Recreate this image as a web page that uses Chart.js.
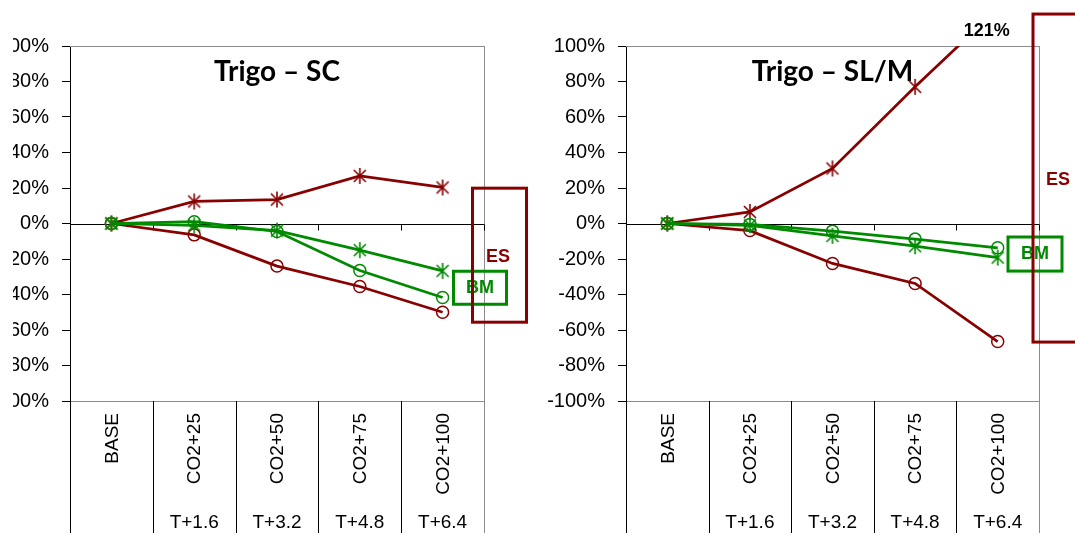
<!DOCTYPE html>
<html lang="es">
<head>
<meta charset="UTF-8">
<title>Trigo – SC / Trigo – SL/M</title>
<script src="https://cdn.jsdelivr.net/npm/chart.js"></script>
<style>
  html, body { margin: 0; padding: 0; background: #fff; overflow: hidden; width: 1075px; height: 533px; }
  #recorte { position: absolute; left: 13px; top: 0; width: 528px; height: 533px; overflow: hidden; }
  canvas { position: absolute; top: 0; }
  #graficoSC { left: -28px; }
  #graficoSLM { left: 541px; }
</style>
</head>
<body>
<div id="recorte"><canvas id="graficoSC" width="555" height="533"></canvas></div>
<canvas id="graficoSLM" width="534" height="533"></canvas>

<script>
  // categorías del eje x (dos niveles)
  const categorias = ['BASE', 'CO2+25', 'CO2+50', 'CO2+75', 'CO2+100'];
  const temperaturas = ['', 'T+1.6', 'T+3.2', 'T+4.8', 'T+6.4'];

  // Trigo – SC (% de cambio)
  const scEsEstrella = [0, 12.4, 13.5, 26.8, 20.3];
  const scEsCirculo  = [0, -6.4, -24.0, -35.5, -50.0];
  const scBmEstrella = [0, -1.0, -4.0, -15.0, -26.7];
  const scBmCirculo  = [0, 1.0, -4.5, -26.5, -41.7];

  // Trigo – SL/M (% de cambio)
  const slmEsEstrella = [0, 6.5, 31.0, 77.0, 121.0];
  const slmEsCirculo  = [0, -4.0, -22.5, -33.8, -66.5];
  const slmBmEstrella = [0, -1.0, -7.0, -12.8, -19.2];
  const slmBmCirculo  = [0, -0.5, -4.3, -8.8, -13.7];

  const ROJO = '#880000';
  const VERDE = '#008a00';
  const FUENTE = '"Liberation Sans", Arial, sans-serif';

  // marcador tipo asterisco (X + línea vertical), como el de Excel
  function asterisco(color) {
    const c = document.createElement('canvas');
    c.width = 18; c.height = 18;
    const g = c.getContext('2d');
    g.strokeStyle = color;
    g.lineWidth = 1.6;
    g.beginPath();
    g.moveTo(9, 1); g.lineTo(9, 17);
    g.moveTo(3, 3); g.lineTo(15, 15);
    g.moveTo(15, 3); g.lineTo(3, 15);
    g.stroke();
    return c;
  }

  function serie(datos, color, estrella) {
    return {
      data: datos,
      borderColor: color,
      borderWidth: 2.75,
      pointStyle: estrella ? asterisco(color) : 'circle',
      pointRadius: 6,
      pointBorderColor: color,
      pointBorderWidth: 1.5,
      pointBackgroundColor: 'rgba(0,0,0,0)',
      tension: 0,
      clip: 0
    };
  }

  const decoracion = {
    id: 'decoracion',
    beforeDatasetsDraw(chart, args, opts) {
      const { ctx, chartArea: a, scales: { x, y } } = chart;
      const h = chart.height;
      const paso = x.getPixelForValue(1) - x.getPixelForValue(0);
      const borde = i => Math.round(x.getPixelForValue(i) - paso / 2) + 0.5;
      ctx.save();

      // marco gris del área de trazado
      ctx.strokeStyle = '#8c8c8c';
      ctx.lineWidth = 1;
      ctx.beginPath();
      ctx.moveTo(a.left, Math.round(a.top) + 0.5); ctx.lineTo(a.right, Math.round(a.top) + 0.5);
      ctx.moveTo(a.left, Math.round(a.bottom) + 0.5); ctx.lineTo(a.right, Math.round(a.bottom) + 0.5);
      ctx.moveTo(Math.round(a.right) + 0.5, a.top); ctx.lineTo(Math.round(a.right) + 0.5, h);
      ctx.stroke();

      // separadores de categorías bajo el gráfico
      ctx.strokeStyle = '#000';
      ctx.beginPath();
      for (let i = 0; i < categorias.length; i++) {
        ctx.moveTo(borde(i), a.bottom); ctx.lineTo(borde(i), h);
      }
      // línea del 0% con marcas
      const y0 = Math.round(y.getPixelForValue(0)) + 0.5;
      ctx.moveTo(a.left, y0); ctx.lineTo(a.right, y0);
      for (let i = 1; i <= categorias.length; i++) {
        ctx.moveTo(borde(i), y0); ctx.lineTo(borde(i), y0 + 6);
      }
      ctx.stroke();

      // etiquetas del eje x
      ctx.fillStyle = '#000';
      ctx.font = '19px ' + FUENTE;
      categorias.forEach((c, i) => {
        const px = x.getPixelForValue(i);
        ctx.save();
        ctx.translate(px, a.bottom + 12);
        ctx.rotate(-Math.PI / 2);
        ctx.textAlign = 'right';
        ctx.textBaseline = 'middle';
        ctx.fillText(c, 0, 1);
        ctx.restore();
        ctx.textAlign = 'center';
        ctx.textBaseline = 'middle';
        ctx.fillText(temperaturas[i], px, a.bottom + 122);
      });

      // título
      ctx.font = 'bold 28px Lato, "Open Sans", sans-serif';
      ctx.textAlign = 'center';
      ctx.textBaseline = 'middle';
      ctx.fillText(opts.titulo, (a.left + a.right) / 2, a.top + 26);
      ctx.restore();
    },
    afterDatasetsDraw(chart, args, opts) {
      const { ctx, chartArea: a, scales: { x, y } } = chart;
      ctx.save();

      // valores fuera de escala
      ctx.font = 'bold 18px ' + FUENTE;
      ctx.fillStyle = '#000';
      ctx.textAlign = 'center';
      ctx.textBaseline = 'middle';
      chart.data.datasets.forEach(ds => {
        ds.data.forEach((v, i) => {
          if (v > y.max) ctx.fillText(Math.round(v) + '%', x.getPixelForValue(i) - 11, a.top - 15);
        });
      });

      // recuadros ES / BM
      opts.cajas.forEach(c => {
        const x0 = a.right + c.dx0, x1 = a.right + c.dx1;
        const t = y.getPixelForValue(c.v0), b = y.getPixelForValue(c.v1);
        ctx.strokeStyle = c.color;
        ctx.lineWidth = 3;
        ctx.strokeRect(x0, t, x1 - x0, b - t);
        ctx.fillStyle = c.color;
        ctx.font = 'bold 18px ' + FUENTE;
        const tx = c.tdx !== undefined ? a.right + c.tdx : (x0 + x1) / 2;
        const ty = c.tv !== undefined ? y.getPixelForValue(c.tv) : (t + b) / 2;
        ctx.fillText(c.texto, tx, ty);
      });
      ctx.restore();
    }
  };

  function crearGrafico(id, titulo, series, cajas, derecha) {
    return new Chart(document.getElementById(id), {
      type: 'line',
      data: { labels: categorias, datasets: series },
      options: {
        responsive: false,
        animation: false,
        layout: { padding: { top: 46, bottom: 132, left: 0, right: derecha } },
        plugins: {
          legend: { display: false },
          tooltip: { enabled: false },
          decoracion: { titulo: titulo, cajas: cajas }
        },
        scales: {
          x: { type: 'category', offset: true, display: false },
          y: {
            min: -100, max: 100,
            afterFit: s => { s.width = 85; },
            ticks: {
              stepSize: 20,
              color: '#000',
              padding: 13,
              font: { family: FUENTE, size: 20 },
              callback: v => v + '%'
            },
            grid: { drawOnChartArea: false, drawTicks: true, tickLength: 8, color: '#000' },
            border: { color: '#000', width: 1 }
          }
        }
      },
      plugins: [decoracion]
    });
  }

  crearGrafico('graficoSC', 'Trigo – SC', [
    serie(scBmEstrella, VERDE, true),
    serie(scBmCirculo, VERDE, false),
    serie(scEsEstrella, ROJO, true),
    serie(scEsCirculo, ROJO, false)
  ], [
    { texto: 'BM', color: VERDE, dx0: -30.5, dx1: 22.5, v0: -26.9, v1: -45.5 },
    { texto: 'ES', color: ROJO, dx0: -11.5, dx1: 42.5, v0: 19.9, v1: -55.6, tdx: 14, tv: -19 }
  ], 56);

  crearGrafico('graficoSLM', 'Trigo – SL/M', [
    serie(slmBmEstrella, VERDE, true),
    serie(slmBmCirculo, VERDE, false),
    serie(slmEsEstrella, ROJO, true),
    serie(slmEsCirculo, ROJO, false)
  ], [
    { texto: 'BM', color: VERDE, dx0: -31, dx1: 23, v0: -7.6, v1: -26.8 },
    { texto: 'ES', color: ROJO, dx0: -6, dx1: 80, v0: 118, v1: -66.8, tdx: 19, tv: 24.5 }
  ], 36);
</script>
</body>
</html>
